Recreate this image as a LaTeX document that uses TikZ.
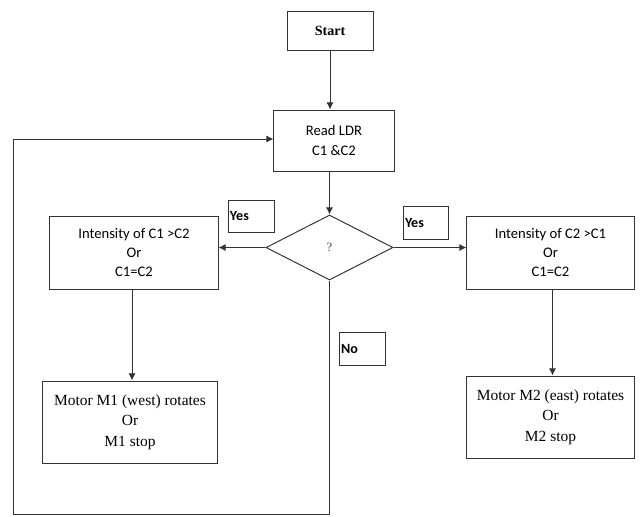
\documentclass[tikz,border=0pt]{standalone}
\usepackage{fontspec}
\setmainfont{Liberation Serif}
\newfontfamily\calibri{Carlito}
\usetikzlibrary{shapes.geometric,arrows.meta,positioning}

\tikzset{
    flowbox/.style={draw=black!80, line width=0.7pt, align=center, inner sep=0pt},
    sansbox/.style={flowbox, font=\calibri\fontsize{10.4}{13.6}\selectfont},
    serifbox/.style={flowbox, font=\fontsize{11}{14.6}\selectfont},
    tagbox/.style={draw=black!80, line width=0.6pt, inner sep=0pt, align=left,
        font=\calibri\bfseries\fontsize{10}{12}\selectfont},
    flowline/.style={draw=black!80, line width=0.7pt},
    flowarrow/.style={flowline, -{Latex[length=1.8mm, width=1.8mm]}},
}

\begin{document}
\begin{tikzpicture}[x=0.025cm, y=-0.025cm]
        \useasboundingbox (0,0) rectangle (642,516);
        \node [flowbox, minimum width=2.15cm, minimum height=0.975cm,
            font=\bfseries\fontsize{10}{12}\selectfont] (start) at (330,30.5) {Start};
        \node [sansbox, minimum width=3cm, minimum height=1.525cm] (read) at (334,140.5)
            {Read LDR\\ C1 \&C2};
        \node [diamond, draw=black!80, line width=0.7pt, inner sep=0pt,
            minimum width=3.175cm, minimum height=1.625cm,
            font=\fontsize{9}{11}\selectfont, text=black!70] (dec) at (329.5,247.5) {?};
        \node [sansbox, minimum width=4.2cm, minimum height=1.825cm] (c1) at (134,252.5)
            {Intensity of C1 >C2\\ Or\\ C1=C2};
        \node [sansbox, minimum width=4.175cm, minimum height=1.825cm] (c2) at (550.5,252.5)
            {Intensity of C2 >C1\\ Or\\ C1=C2};
        \node [serifbox, minimum width=4.35cm, minimum height=2.05cm,
            below=2.275cm of c1, xshift=-0.1cm] (m1)
            {Motor M1 (west) rotates\\ Or\\ M1 stop};
        \node [serifbox, minimum width=4.2cm, minimum height=2.05cm,
            below=2.15cm of c2] (m2)
            {Motor M2 (east) rotates\\ Or\\ M2 stop};
        \node [tagbox, minimum width=1.15cm, minimum height=0.8cm, text width=1.05cm] (yesl)
            at (251,216) {Yes};
        \node [tagbox, minimum width=1.125cm, minimum height=0.825cm, text width=1.025cm] (yesr)
            at (425.5,222.5) {Yes};
        \node [tagbox, minimum width=1.15cm, minimum height=0.825cm, text width=1.05cm] (no)
            at (362,348.5) {No};
        \coordinate (loopbl) at (13,514);
        \coordinate (looptl) at (13,139);

        \draw [flowarrow] (start) -- (start |- read.north);
        \draw [flowarrow] (read.south -| dec.north) -- (dec.north);
        \draw [flowarrow] (dec.west) -- (c1.east |- dec.west);
        \draw [flowarrow] (dec.east) -- (c2.west |- dec.east);
        \draw [flowarrow] ([xshift=-0.05cm]c1.south) -- ([xshift=-0.05cm]c1.south |- m1.north);
        \draw [flowarrow] ([xshift=0.05cm]c2.south) -- ([xshift=0.05cm]c2.south |- m2.north);
        \draw [flowarrow] (dec.south) -- (dec.south |- loopbl) -- (loopbl) -- (looptl)
            -- (looptl -| read.west);
    \end{tikzpicture}
\end{document}
